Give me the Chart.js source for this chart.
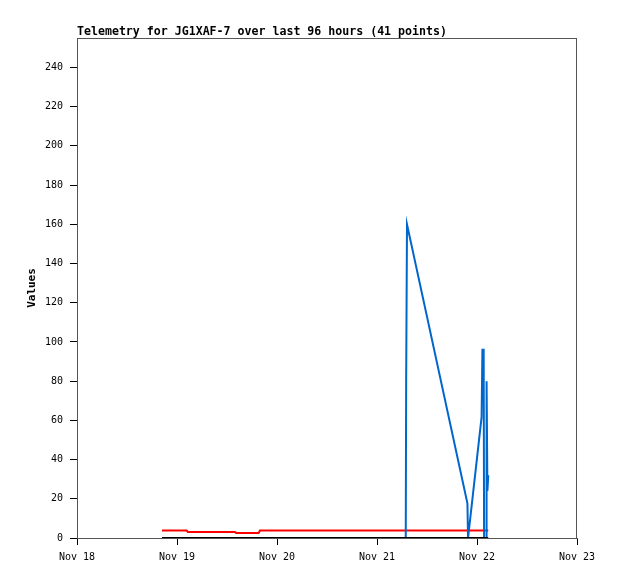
<!DOCTYPE html>
<html>
<head>
<meta charset="utf-8">
<script src="https://cdn.jsdelivr.net/npm/chart.js@4"></script>
<style>
  body { margin: 0; background: #fff; }
  canvas { display: block; }
</style>
</head>
<body>
<canvas id="chart" width="618" height="579"></canvas>
<script>
// hours since Nov 18 00:00 for each of the 41 telemetry packets
let hours = [
  20.4, 22.5, 24.5, 26.3, 26.6, 28.8, 31.0, 33.2, 35.4, 37.9,
  38.2, 40.1, 41.9, 43.6, 43.9, 46.0, 48.2, 50.4, 52.6, 54.8,
  57.0, 59.2, 61.4, 63.6, 65.8, 68.0, 72.0, 76.0, 78.9, 79.0,
  79.2, 93.7, 93.85, 97.1, 97.3, 97.6, 97.7, 98.2, 98.3, 98.5,
  98.7
];
// series values
let zeroSeries = [
  0, 0, 0, 0, 0, 0, 0, 0, 0, 0,
  0, 0, 0, 0, 0, 0, 0, 0, 0, 0,
  0, 0, 0, 0, 0, 0, 0, 0, 0, 0,
  0, 0, 0, 0, 0, 0, 0, 0, 0, 0,
  0
];
let blueSeries = [
  0, 0, 0, 0, 0, 0, 0, 0, 0, 0,
  0, 0, 0, 0, 0, 0, 0, 0, 0, 0,
  0, 0, 0, 0, 0, 0, 0, 0, 0, 80,
  160, 17.7, 0, 61.6, 96, 96, 0, 0, 80, 24,
  32
];
let redSeries = [
  3.8, 3.8, 3.8, 3.8, 3.1, 3.1, 3.1, 3.1, 3.1, 3.1,
  2.6, 2.6, 2.6, 2.6, 3.8, 3.8, 3.8, 3.8, 3.8, 3.8,
  3.8, 3.8, 3.8, 3.8, 3.8, 3.8, 3.8, 3.8, 3.8, 3.8,
  3.8, 3.8, 3.8, 3.8, 3.8, 3.8, 3.8, 3.8, 3.8, 3.8,
  3.8
];
let dayLabels = ['Nov 18', 'Nov 19', 'Nov 20', 'Nov 21', 'Nov 22', 'Nov 23'];
let yTicks = [0, 20, 40, 60, 80, 100, 120, 140, 160, 180, 200, 220, 240];

const titleText = 'Telemetry for JG1XAF-7 over last 96 hours (41 points)';
const mono = "'DejaVu Sans Mono', monospace";

function points(values) {
  return values.map((v, i) => ({ x: hours[i], y: v }));
}

// plot box + title, like the old gd-style graphs
const frame = {
  id: 'frame',
  afterDraw(chart) {
    const { ctx, chartArea: a } = chart;
    ctx.save();
    ctx.strokeStyle = '#555';
    ctx.lineWidth = 1;
    ctx.strokeRect(a.left + 0.5, a.top + 0.5, a.right - a.left - 1, a.bottom - a.top);
    ctx.fillStyle = '#000';
    ctx.font = 'bold 11.6px ' + mono;
    ctx.textBaseline = 'alphabetic';
    ctx.textAlign = 'left';
    ctx.fillText(titleText, a.left, a.top - 3);
    ctx.restore();
  }
};

new Chart(document.getElementById('chart'), {
  type: 'line',
  data: {
    datasets: [
      { data: points(zeroSeries), borderColor: '#000000', borderWidth: 2 },
      { data: points(blueSeries), borderColor: '#0066cc', borderWidth: 2 },
      { data: points(redSeries), borderColor: '#ff0000', borderWidth: 2 }
    ]
  },
  options: {
    responsive: false,
    animation: false,
    layout: { padding: { top: 38, right: 41, left: 0, bottom: 0 } },
    elements: { point: { radius: 0 }, line: { tension: 0 } },
    plugins: { legend: { display: false }, tooltip: { enabled: false } },
    scales: {
      x: {
        type: 'linear',
        min: 0,
        max: 120,
        afterBuildTicks: s => { s.ticks = dayLabels.map((d, i) => ({ value: i * 24 })); },
        afterFit: s => { s.height = 41; },
        border: { color: '#555' },
        grid: { drawOnChartArea: false, tickLength: 7, color: '#000' },
        ticks: {
          color: '#000',
          font: { family: mono, size: 10 },
          padding: 6,
          maxRotation: 0,
          callback: v => dayLabels[v / 24]
        }
      },
      y: {
        min: 0,
        max: 255,
        afterBuildTicks: s => { s.ticks = yTicks.map(v => ({ value: v })); },
        afterFit: s => { s.width = 77; },
        border: { color: '#000' },
        grid: { drawOnChartArea: false, tickLength: 7, color: '#000' },
        ticks: {
          color: '#000',
          font: { family: mono, size: 10 },
          padding: 7
        },
        title: {
          display: true,
          text: 'Values',
          color: '#000',
          font: { family: mono, size: 11, weight: 'bold' },
          padding: { top: 26, bottom: 0 }
        }
      }
    }
  },
  plugins: [frame]
});
</script>
</body>
</html>
